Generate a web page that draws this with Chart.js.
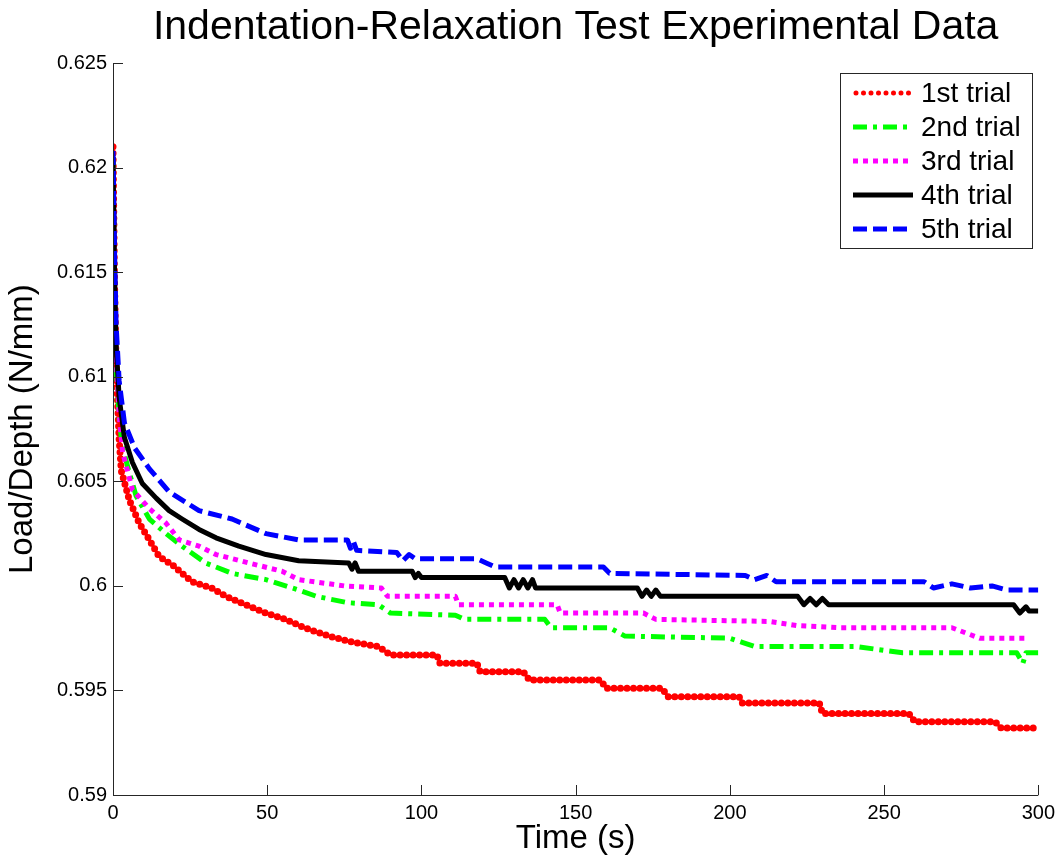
<!DOCTYPE html>
<html>
<head>
<meta charset="utf-8">
<title>Indentation-Relaxation Test Experimental Data</title>
<script src="https://cdn.jsdelivr.net/npm/chart.js@4.4.1/dist/chart.umd.min.js"></script>
<style>
    body { margin: 0; background: #fff; }
    #wrap { width: 1061px; height: 860px; }
</style>
</head>
<body>
<div id="wrap"><canvas id="relaxChart"></canvas></div>
<script>
// Data: [time (s), load/depth (N/mm)]
const trialLabels = ['1st trial', '2nd trial', '3rd trial', '4th trial', '5th trial'];

const trial1 = [[0,0.621],[0.5,0.6145],[1,0.6105],[2,0.607],[2.7,0.6055],[5.3,0.6041],[8.5,0.603],[11.8,0.6022],[15,0.6014],[19.3,0.601],[22.4,0.6006],[25.7,0.6002],[32,0.5999],[36.6,0.5995],[43,0.5991],[49.6,0.5987],[56,0.5984],[62,0.598],[70,0.5976],[78,0.5973],[86,0.5971],[90,0.5967],[105,0.5967],[106,0.5963],[118,0.5963],[119,0.5959],[133,0.5959],[135,0.5955],[158,0.5955],[160,0.5951],[178,0.5951],[180,0.5947],[203,0.5947],[204,0.5944],[229,0.5944],[230,0.5939],[258,0.5939],[260,0.5935],[286,0.5935],[288,0.5932],[300,0.5932]];

const trial2 = [[0,0.6205],[0.5,0.614],[1,0.6105],[2,0.608],[3,0.6067],[5.3,0.6054],[7.5,0.6043],[11.8,0.6032],[17.2,0.6025],[22.4,0.6019],[30,0.6011],[38.6,0.6006],[49.6,0.6003],[60.2,0.5998],[66,0.5995],[76,0.5992],[86,0.5991],[90,0.5987],[111,0.5986],[114,0.5984],[140,0.5984],[142,0.598],[161,0.598],[166,0.5976],[200,0.5975],[204,0.5973],[208,0.5971],[241,0.5971],[256,0.5968],[293,0.5968],[295,0.5963],[296,0.5968],[300,0.5968]];

const trial3 = [[0,0.6205],[0.5,0.6145],[1,0.611],[2,0.6082],[3.1,0.6064],[6.3,0.6046],[11.8,0.6037],[17.2,0.603],[21.5,0.6022],[27.9,0.6019],[33.4,0.6015],[44,0.6011],[54.8,0.6007],[60.2,0.6003],[75,0.6],[87,0.5999],[89,0.5995],[111,0.5995],[112,0.5991],[144,0.5991],[145,0.5987],[172,0.5987],[176,0.5984],[213,0.5983],[222,0.5981],[236,0.598],[272,0.598],[281,0.5975],[297,0.5975]];

const trial4 = [[0,0.6205],[0.5,0.615],[1,0.6115],[2,0.609],[3.7,0.6071],[6.3,0.6059],[9.5,0.6049],[14,0.6042],[18.2,0.6036],[22.4,0.6032],[27.9,0.6027],[33.4,0.6023],[40.8,0.6019],[49.6,0.6015],[60.2,0.6012],[76.4,0.6011],[77.5,0.6008],[78.5,0.6011],[79.6,0.6007],[97,0.6007],[98,0.6004],[99,0.6006],[100,0.6004],[127,0.6004],[128.5,0.5999],[130,0.6003],[131.5,0.5999],[133,0.6003],[134.5,0.5999],[136,0.6003],[137,0.5999],[170,0.5999],[171.5,0.5995],[173,0.5998],[174.5,0.5995],[176,0.5998],[177.5,0.5995],[179,0.5995],[222,0.5995],[224,0.5991],[226,0.5994],[228,0.5991],[230,0.5994],[232,0.5991],[236,0.5991],[292,0.5991],[294,0.5987],[296,0.599],[297,0.5988],[300,0.5988]];

const trial5 = [[0,0.6208],[0.5,0.616],[1,0.6125],[2,0.6098],[3.7,0.6078],[7,0.6066],[11.8,0.6056],[18.2,0.6045],[27.9,0.6036],[38.6,0.6032],[49.6,0.6025],[60.2,0.6022],[76,0.6022],[77,0.6018],[78,0.6021],[79,0.6017],[92,0.6016],[94,0.6012],[96,0.6015],[98,0.6013],[118,0.6013],[121,0.6011],[124,0.6009],[127,0.6009],[159,0.6009],[161,0.6006],[205,0.6005],[208,0.6003],[212,0.6005],[215,0.6002],[226,0.6002],[263,0.6002],[266,0.5999],[272,0.6001],[278,0.5999],[285,0.6],[290,0.5998],[300,0.5998]];

const xTicks = [0, 50, 100, 150, 200, 250, 300];
const yTicks = [0.59, 0.595, 0.6, 0.605, 0.61, 0.615, 0.62, 0.625];

// Matlab-like line styles
const trialStyles = [
    { color: '#ff0000', dash: [0, 6.5], width: 7, cap: 'round' },
    { color: '#00ff00', dash: [14, 6, 4, 6], width: 5, cap: 'butt' },
    { color: '#ff00ff', dash: [5, 5], width: 5, cap: 'butt' },
    { color: '#000000', dash: [], width: 5, cap: 'butt' },
    { color: '#0000ff', dash: [14, 6], width: 5, cap: 'butt' }
];

const fontFamily = "'Liberation Sans', Arial, sans-serif";

// Axis lines with inward ticks (box off)
const axesPlugin = {
    id: 'matlabAxes',
    afterDatasetsDraw(chart) {
        const { ctx, chartArea: a, scales: { x, y } } = chart;
        ctx.save();
        ctx.strokeStyle = '#262626';
        ctx.lineWidth = 1;
        ctx.beginPath();
        ctx.moveTo(a.left + 0.5, a.top);
        ctx.lineTo(a.left + 0.5, a.bottom + 0.5);
        ctx.lineTo(a.right, a.bottom + 0.5);
        for (const v of xTicks) {
            const px = Math.round(x.getPixelForValue(v)) + 0.5;
            ctx.moveTo(px, a.bottom);
            ctx.lineTo(px, a.bottom - 10);
        }
        for (const v of yTicks) {
            const py = Math.round(y.getPixelForValue(v)) + 0.5;
            ctx.moveTo(a.left, py);
            ctx.lineTo(a.left + 10, py);
        }
        ctx.stroke();
        ctx.restore();
    }
};

// Boxed legend in the upper right corner
const legendPlugin = {
    id: 'boxLegend',
    afterDraw(chart) {
        const { ctx } = chart;
        const box = { x: 840.5, y: 73.5, w: 192, h: 175 };
        ctx.save();
        ctx.fillStyle = '#fff';
        ctx.fillRect(box.x, box.y, box.w, box.h);
        ctx.strokeStyle = '#262626';
        ctx.lineWidth = 1;
        ctx.strokeRect(box.x, box.y, box.w, box.h);
        ctx.font = '28px ' + fontFamily;
        ctx.textBaseline = 'middle';
        ctx.fillStyle = '#000';
        chart.data.datasets.forEach((ds, i) => {
            const rowY = 93 + i * 34;
            ctx.beginPath();
            ctx.strokeStyle = ds.borderColor;
            ctx.lineWidth = i === 0 ? 5 : ds.borderWidth;
            ctx.lineCap = ds.borderCapStyle;
            ctx.setLineDash(i === 0 ? [0, 7.5] : ds.borderDash);
            ctx.moveTo(i === 0 ? 856 : 853, rowY);
            ctx.lineTo(913, rowY);
            ctx.stroke();
            ctx.setLineDash([]);
            ctx.fillText(ds.label, 921, rowY + 1);
        });
        ctx.restore();
    }
};

const createRelaxChart = () => {
    const ctx = document.getElementById('relaxChart').getContext('2d');
    const series = [trial1, trial2, trial3, trial4, trial5];

    new Chart(ctx, {
        type: 'line',
        data: {
            datasets: series.map((pts, i) => ({
                label: trialLabels[i],
                data: pts.map(p => ({ x: p[0], y: p[1] })),
                borderColor: trialStyles[i].color,
                borderDash: trialStyles[i].dash,
                borderWidth: trialStyles[i].width,
                borderCapStyle: trialStyles[i].cap,
                borderJoinStyle: 'round',
                pointRadius: 0,
                tension: 0,
                fill: false,
                order: 5 - i
            }))
        },
        options: {
            responsive: true,
            maintainAspectRatio: false,
            animation: false,
            layout: { padding: { left: 0, right: 19, top: 0, bottom: 0 } },
            plugins: {
                legend: { display: false },
                tooltip: { enabled: false },
                title: {
                    display: true,
                    fullSize: false,
                    text: 'Indentation-Relaxation Test Experimental Data',
                    color: '#000',
                    font: { family: fontFamily, size: 41, weight: 'normal', lineHeight: 1.2 },
                    padding: { top: 3, bottom: 11 }
                }
            },
            scales: {
                x: {
                    type: 'linear',
                    min: 0,
                    max: 300,
                    grid: { display: false, drawTicks: false, tickLength: 0 },
                    border: { display: false },
                    ticks: {
                        stepSize: 50,
                        color: '#000',
                        padding: 6,
                        maxRotation: 0,
                        font: { family: fontFamily, size: 20 }
                    },
                    title: {
                        display: true,
                        text: 'Time (s)',
                        color: '#000',
                        font: { family: fontFamily, size: 33 },
                        padding: { top: 0, bottom: 1 }
                    },
                    afterFit: s => { s.height = 65; }
                },
                y: {
                    type: 'linear',
                    min: 0.59,
                    max: 0.625,
                    grid: { display: false, drawTicks: false, tickLength: 0 },
                    border: { display: false },
                    ticks: {
                        stepSize: 0.005,
                        color: '#000',
                        padding: 6,
                        font: { family: fontFamily, size: 20 },
                        callback: v => String(+v.toFixed(3))
                    },
                    title: {
                        display: true,
                        text: 'Load/Depth (N/mm)',
                        color: '#000',
                        font: { family: fontFamily, size: 33 },
                        padding: { top: 3, bottom: 0 }
                    },
                    afterFit: s => { s.width = 113; }
                }
            }
        },
        plugins: [axesPlugin, legendPlugin]
    });
}

createRelaxChart();
</script>
</body>
</html>
